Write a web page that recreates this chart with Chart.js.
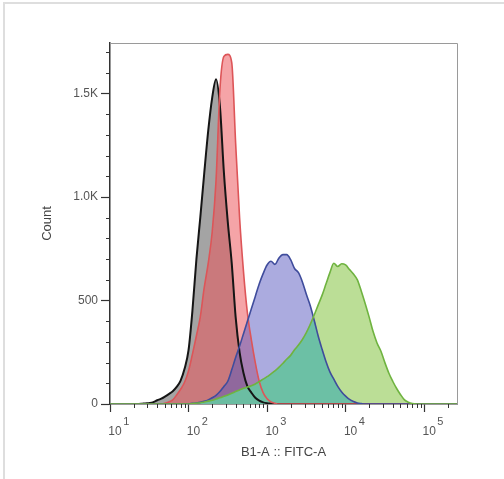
<!DOCTYPE html>
<html><head><meta charset="utf-8">
<script src="https://cdn.jsdelivr.net/npm/chart.js@4/dist/chart.umd.min.js"></script>
<style>
html,body{margin:0;padding:0;background:#fff;}
#wrap{position:relative;width:504px;height:479px;overflow:hidden;}
#frame{position:absolute;left:3px;top:2px;width:501px;height:477px;border-left:2px solid #dedede;border-top:2px solid #dedede;box-sizing:border-box;pointer-events:none;}
canvas{position:absolute;left:0;top:0;}
</style></head><body>
<div id="wrap"><canvas id="c" width="504" height="479"></canvas><div id="frame"></div></div>
<script>
// FITC-A intensity (bin positions on the log axis)
const fitc = [10,
 20, 22, 25, 28, 32, 35, 40, 45, 50, 56, 63, 71, 79, 89,
 100, 112, 126, 141, 158, 178, 200, 224, 251, 282, 316, 355, 398, 447, 501, 562, 631, 708, 794, 891,
 1000, 1122, 1259, 1413, 1585, 1778, 1995, 2239, 2512, 2818, 3162, 3548, 3981, 4467, 5012, 5623, 6310, 7079, 7943, 8913,
 10000, 11220, 12589, 14125, 15849, 17783, 19953, 22387, 25119, 28184, 31623, 35481, 39811, 44668, 50119, 56234, 63096, 70795, 79433,
 262144];

// counts per series
const blackCounts = [0,
 0, 0, 1, 3, 5, 8, 18, 26, 36, 48, 62, 84, 112, 170,
 260, 450, 700, 900, 1110, 1320, 1480, 1570, 1440, 1120, 880, 680, 420, 250, 150, 85, 55, 30, 16, 8,
 4, 2, 0, 0, 0, 0, 0, 0, 0, 0, 0, 0, 0, 0, 0, 0, 0, 0, 0, 0,
 0, 0, 0, 0, 0, 0, 0, 0, 0, 0, 0, 0, 0, 0, 0, 0, 0, 0, 0,
 0];

const redCounts = [0,
 0, 0, 0, 0, 0, 0, 0, 0, 3, 10, 20, 45, 70, 105,
 160, 240, 330, 420, 560, 680, 830, 1080, 1520, 1680, 1690, 1650, 1260, 900, 640, 440, 310, 200, 110, 55,
 25, 10, 4, 0, 0, 0, 0, 0, 0, 0, 0, 0, 0, 0, 0, 0, 0, 0, 0, 0,
 0, 0, 0, 0, 0, 0, 0, 0, 0, 0, 0, 0, 0, 0, 0, 0, 0, 0, 0,
 0];

const blueCounts = [0,
 0, 0, 0, 0, 0, 0, 0, 0, 0, 0, 0, 0, 0, 0,
 1, 3, 5, 8, 13, 20, 30, 42, 60, 85, 110, 165, 225, 280, 340, 400, 460, 520, 580, 630,
 672, 690, 675, 705, 722, 722, 698, 655, 635, 590, 530, 475, 405, 330, 265, 205, 155, 120, 85, 58,
 38, 22, 12, 5, 2, 0, 0, 0, 0, 0, 0, 0, 0, 0, 0, 0, 0, 0, 0,
 0];

const greenCounts = [0,
 0, 0, 0, 0, 0, 0, 0, 0, 0, 0, 0, 0, 0, 0,
 0, 2, 4, 6, 10, 14, 18, 24, 30, 37, 44, 52, 60, 68, 76, 82, 88, 97, 108, 120,
 132, 146, 160, 177, 196, 216, 235, 262, 285, 312, 345, 385, 430, 478, 525, 580, 635, 680, 665, 678,
 672, 650, 628, 600, 545, 485, 420, 350, 295, 255, 200, 150, 110, 75, 45, 20, 8, 2, 0,
 0];

// axis ticks
const xTickValues = [10, 100, 1000, 10000, 100000];
const xTickBase = '10';
const xTickExp = ['1', '2', '3', '4', '5'];
const yTickValues = [0, 500, 1000, 1500];
const yTickLabels = ['0', '500', '1.0K', '1.5K'];

const pts = arr => fitc.map((x, i) => ({x: x, y: arr[i]}));
const overlapBG = blueCounts.map((v, i) => Math.min(v, greenCounts[i]));

const TXT = '#555';
const FONT = "'Liberation Sans', Arial, sans-serif";
const X_LABEL_OFFSET = 5;

const minorTicks = {
  id: 'minorTicks',
  afterDraw(chart) {
    const ctx = chart.ctx, a = chart.chartArea;
    const xs = chart.scales.x, ys = chart.scales.y;
    ctx.save();
    // frame top/right
    ctx.strokeStyle = '#9a9a9a';
    ctx.lineWidth = 1;
    ctx.beginPath();
    ctx.moveTo(a.left, a.top + 0.5); ctx.lineTo(a.right + 0.5, a.top + 0.5); ctx.lineTo(a.right + 0.5, a.bottom);
    ctx.stroke();
    // minor ticks
    ctx.strokeStyle = '#333';
    ctx.lineWidth = 1;
    ctx.beginPath();
    for (let d = 0; d < xTickValues.length; d++) {
      for (let m = 2; m <= 9; m++) {
        const v = xTickValues[d] * m;
        if (v > xs.max) continue;
        const px = Math.round(xs.getPixelForValue(v)) + 0.5;
        ctx.moveTo(px, a.bottom); ctx.lineTo(px, a.bottom + 4);
      }
    }
    for (let v = 100; v <= ys.max; v += 100) {
      if (yTickValues.includes(v)) continue;
      const py = Math.round(ys.getPixelForValue(v)) + 0.5;
      ctx.moveTo(a.left, py); ctx.lineTo(a.left - 4, py);
    }
    ctx.stroke();
    // exponents
    ctx.fillStyle = TXT;
    ctx.textBaseline = 'middle';
    ctx.textAlign = 'left';
    const baseFont = '12px ' + FONT;
    ctx.font = baseFont;
    const w = ctx.measureText(xTickBase).width;
    ctx.font = '11px ' + FONT;
    const labelMid = a.bottom + 8 + 12 + 7.2;
    xTickValues.forEach((v, i) => {
      const px = xs.getPixelForValue(v) + X_LABEL_OFFSET;
      ctx.fillText(xTickExp[i], px + w / 2 + 1.5, labelMid - 9);
    });
    ctx.restore();
  }
};

new Chart(document.getElementById('c'), {
  type: 'line',
  data: {
    datasets: [
      { label: 'overlap', data: pts(overlapBG), order: 0, fill: 'origin',
        backgroundColor: 'rgba(104,194,168,0.9)', borderWidth: 0, borderColor: 'rgba(0,0,0,0)' },
      { label: 'green', data: pts(greenCounts), order: 1, fill: 'origin',
        backgroundColor: 'rgba(120,190,45,0.5)', borderColor: '#6fb340', borderWidth: 1.6 },
      { label: 'blue', data: pts(blueCounts), order: 2, fill: 'origin',
        backgroundColor: 'rgba(88,88,192,0.5)', borderColor: '#3f4c9c', borderWidth: 1.6 },
      { label: 'red', data: pts(redCounts), order: 3, fill: 'origin',
        backgroundColor: 'rgba(236,80,86,0.52)', borderColor: '#dd5558', borderWidth: 1.6 },
      { label: 'black', data: pts(blackCounts), order: 4, fill: 'origin',
        backgroundColor: 'rgba(108,108,108,0.62)', borderColor: '#151515', borderWidth: 2 }
    ]
  },
  options: {
    responsive: false,
    animation: false,
    devicePixelRatio: 1,
    layout: { padding: { left: 0, top: 43, right: 47, bottom: 0 } },
    elements: { point: { radius: 0 }, line: { cubicInterpolationMode: 'monotone' } },
    plugins: { legend: { display: false }, tooltip: { enabled: false }, filler: { drawTime: 'beforeDatasetsDraw' } },
    scales: {
      x: {
        type: 'logarithmic', min: 10, max: 262144,
        afterBuildTicks: s => { s.ticks = xTickValues.map(v => ({ value: v, major: true })); },
        afterFit: s => { s.height = 75; },
        ticks: {
          autoSkip: false, maxRotation: 0, minRotation: 0,
          callback: v => xTickValues.includes(v) ? xTickBase : '',
          labelOffset: X_LABEL_OFFSET, padding: 12, color: TXT,
          font: { family: FONT, size: 12 }
        },
        grid: { drawOnChartArea: false, tickLength: 8, tickColor: '#333', tickWidth: 1.2 },
        border: { color: '#333', width: 1.5 },
        title: { display: true, text: 'B1-A :: FITC-A', color: '#444',
          font: { family: FONT, size: 13 }, padding: { top: 0, bottom: 19 } }
      },
      y: {
        min: 0, max: 1745,
        afterBuildTicks: s => { s.ticks = yTickValues.map(v => ({ value: v })); },
        afterFit: s => { s.width = 110; },
        ticks: {
          autoSkip: false,
          callback: v => { const i = yTickValues.indexOf(v); return i >= 0 ? yTickLabels[i] : ''; },
          padding: 3, color: TXT, font: { family: FONT, size: 12 }
        },
        grid: { drawOnChartArea: false, tickLength: 9, tickColor: '#333', tickWidth: 1.2 },
        border: { color: '#333', width: 1.5 },
        title: { display: true, text: 'Count', color: '#444',
          font: { family: FONT, size: 13 }, padding: { top: 40, bottom: 0 } }
      }
    }
  },
  plugins: [minorTicks]
});
</script>
</body></html>
